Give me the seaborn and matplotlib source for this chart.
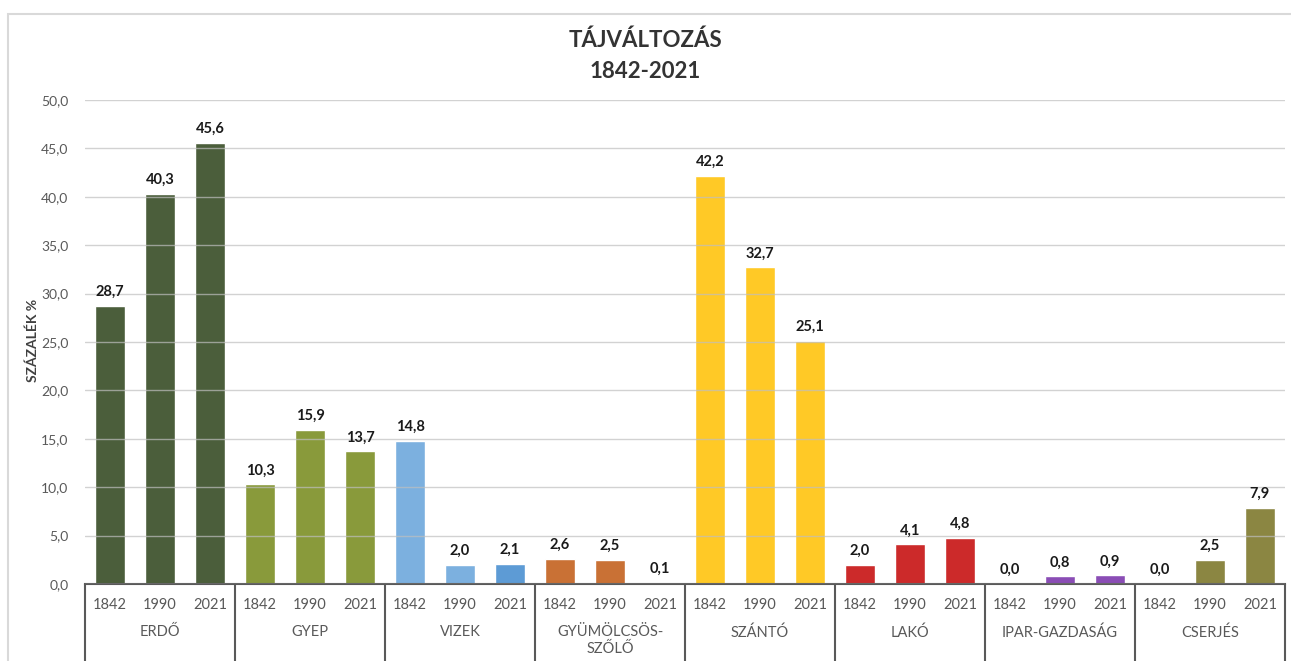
import matplotlib
matplotlib.use("Agg")
import matplotlib.pyplot as plt
from matplotlib.patches import Rectangle
from matplotlib.lines import Line2D
import seaborn as sns
import pandas as pd

# Land-use categories and survey years
categories = ["ERDŐ", "GYEP", "VIZEK", "GYÜMÖLCSÖS-\nSZŐLŐ", "SZÁNTÓ", "LAKÓ",
              "IPAR-GAZDASÁG", "CSERJÉS"]
years = ["1842", "1990", "2021"]

erdo = [28.7, 40.3, 45.6]
gyep = [10.3, 15.9, 13.7]
vizek = [14.8, 2.0, 2.1]
gyumolcsos = [2.6, 2.5, 0.1]
szanto = [42.2, 32.7, 25.1]
lako = [2.0, 4.1, 4.8]
ipar = [0.0, 0.8, 0.9]
cserjes = [0.0, 2.5, 7.9]

bar_colors = [
    ["#4b5e3b", "#4b5e3b", "#4b5e3b"],
    ["#899a3b", "#899a3b", "#899a3b"],
    ["#7cb0df", "#7cb0df", "#5d9bd5"],
    ["#c97135", "#c97135", "#c97135"],
    ["#ffc926", "#ffc926", "#ffc926"],
    ["#cc2a2a", "#cc2a2a", "#cc2a2a"],
    ["#8a4db5", "#8a4db5", "#8a4db5"],
    ["#8b8642", "#8b8642", "#8b8642"],
]

series = [erdo, gyep, vizek, gyumolcsos, szanto, lako, ipar, cserjes]

rows = []
for ci, (cat, vals) in enumerate(zip(categories, series)):
    for yi, (yr, v) in enumerate(zip(years, vals)):
        rows.append({"key": f"{ci}-{yr}", "category": cat, "year": yr,
                     "value": v, "color": bar_colors[ci][yi]})
df = pd.DataFrame(rows)
order = list(df["key"])
palette = dict(zip(df["key"], df["color"]))

sns.set_theme(style="white")
plt.rcParams["font.family"] = ["Lato", "DejaVu Sans"]

W, H = 1291, 661
fig = plt.figure(figsize=(W / 100, H / 100), dpi=100)
fig.patch.set_facecolor("white")

# outer chart frame
fig.patches.append(Rectangle((8 / W, -0.1), 1.2, (H - 14) / H + 0.1,
                             transform=fig.transFigure, fill=False,
                             edgecolor="#d9d9d9", linewidth=1.5))

ax = fig.add_axes([85 / W, 77 / H, 1200 / W, 484 / H])
sns.barplot(data=df, x="key", y="value", hue="key", order=order,
            hue_order=order, palette=palette, legend=False, width=0.6,
            saturation=1, ax=ax, zorder=2)

ax.set_xlim(-0.5, len(order) - 0.5)
ax.set_ylim(0, 50)
ax.set_yticks([i * 5 for i in range(11)])
ax.set_yticklabels([f"{i * 5:.1f}".replace(".", ",") for i in range(11)],
                   fontsize=10, color="#595959")
ax.tick_params(axis="y", length=0, pad=12)
ax.yaxis.grid(True, color="#bfbfbf", linewidth=1, alpha=0.7, zorder=3)
ax.set_axisbelow(False)

ax.set_xticks(range(len(order)))
ax.set_xticklabels(list(df["year"]), fontsize=10.5, color="#595959")
ax.tick_params(axis="x", length=0, pad=10)
ax.set_xlabel("")
ax.set_ylabel("")
fig.text(33 / W, 1 - 340 / H, "SZÁZALÉK %", rotation=90, ha="center",
         va="center", fontsize=10, fontweight="bold", color="#404040")

for s in ["top", "right", "left"]:
    ax.spines[s].set_visible(False)
ax.spines["bottom"].set_color("#595959")
ax.spines["bottom"].set_linewidth(1.5)

# value labels
for i, v in enumerate(df["value"]):
    ax.annotate(f"{v:.1f}".replace(".", ","), (i, v), xytext=(0, 5),
                textcoords="offset points", ha="center", va="bottom",
                fontsize=10.5, fontweight="bold", color="#1a1a1a")

# category group separators and labels below the axis
tr = ax.get_xaxis_transform()
n = len(years)
for ci in range(len(categories) + 1):
    x = ci * n - 0.5
    ax.add_line(Line2D([x, x], [0, -0.2], transform=tr, color="#595959",
                       linewidth=1.5, clip_on=False))
for ci, cat in enumerate(categories):
    ax.text(ci * n + (n - 1) / 2, -0.085, cat, transform=tr, ha="center",
            va="top", fontsize=10.5, color="#595959", linespacing=1.25)

fig.text(0.5, 1 - 40 / H, "TÁJVÁLTOZÁS", ha="center", va="center",
         fontsize=16, fontweight="bold", color="#333333")
fig.text(0.5, 1 - 72 / H, "1842-2021", ha="center", va="center",
         fontsize=16, fontweight="bold", color="#333333")

fig.savefig("out.png", dpi=100)
